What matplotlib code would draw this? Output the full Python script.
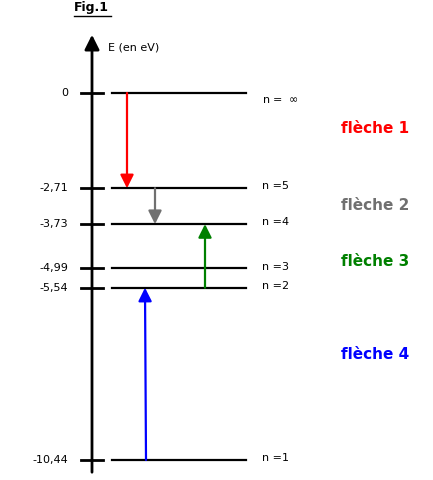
import matplotlib.pyplot as plt

# energy levels (eV) and labels
energies = [0, -2.71, -3.73, -4.99, -5.54, -10.44]
tick_labels = ["0", "-2,71", "-3,73", "-4,99", "-5,54", "-10,44"]
level_names = ["n =  $\\infty$", "n =5", "n =4", "n =3", "n =2", "n =1"]

# arrows: (x, start energy, end energy, colour, label, label y energy)
arrows = [
    (127, 0, -2.71, "#ff0000", "flèche 1", -1.0),
    (155, -2.71, -3.73, "#707070", "flèche 2", -3.2),
    (205, -5.54, -3.73, "#008000", "flèche 3", -4.8),
    (145, -10.44, -5.54, "#0000ff", "flèche 4", -7.45),
]

px = 35.15  # pixels per eV
fig = plt.figure(figsize=(4.33, 4.80), dpi=100)
ax = fig.add_axes([0, 0, 1, 1])
ax.set_xlim(0, 433)
ax.set_ylim(-(480 - 93) / px, 93 / px)
ax.axis("off")

# vertical energy axis
ax.annotate("", xy=(92, (93 - 32) / px), xytext=(92, -(475 - 93) / px),
            arrowprops=dict(arrowstyle="-|>", lw=2, color="black", mutation_scale=22))
ax.text(108, (93 - 47) / px, "E (en eV)", fontsize=8, va="center")
ax.text(74, (93 - 8) / px, "Fig.1", fontsize=9, fontweight="bold", va="center")
ax.plot([74, 111], [(93 - 16) / px] * 2, color="black", lw=1)

for e, tl, name in zip(energies, tick_labels, level_names):
    ax.plot([81, 103], [e, e], color="black", lw=2)
    ax.plot([112, 246], [e, e], color="black", lw=1.6)
    ax.text(68, e, tl, fontsize=8, ha="right", va="center")
    ax.text(262, e - 0.2 if e == 0 else e + 0.05, name, fontsize=8, va="center")

for x, e0, e1, c, lab, ly in arrows:
    ax.annotate("", xy=(x, e1), xytext=(x + (1 if lab == "flèche 4" else 0), e0),
                arrowprops=dict(arrowstyle="-|>", lw=1.6, color=c, mutation_scale=20,
                                shrinkA=0, shrinkB=0))
    ax.text(375, ly, lab, fontsize=11, fontweight="bold", color=c, ha="center", va="center")

fig.savefig("out.png", dpi=100)
